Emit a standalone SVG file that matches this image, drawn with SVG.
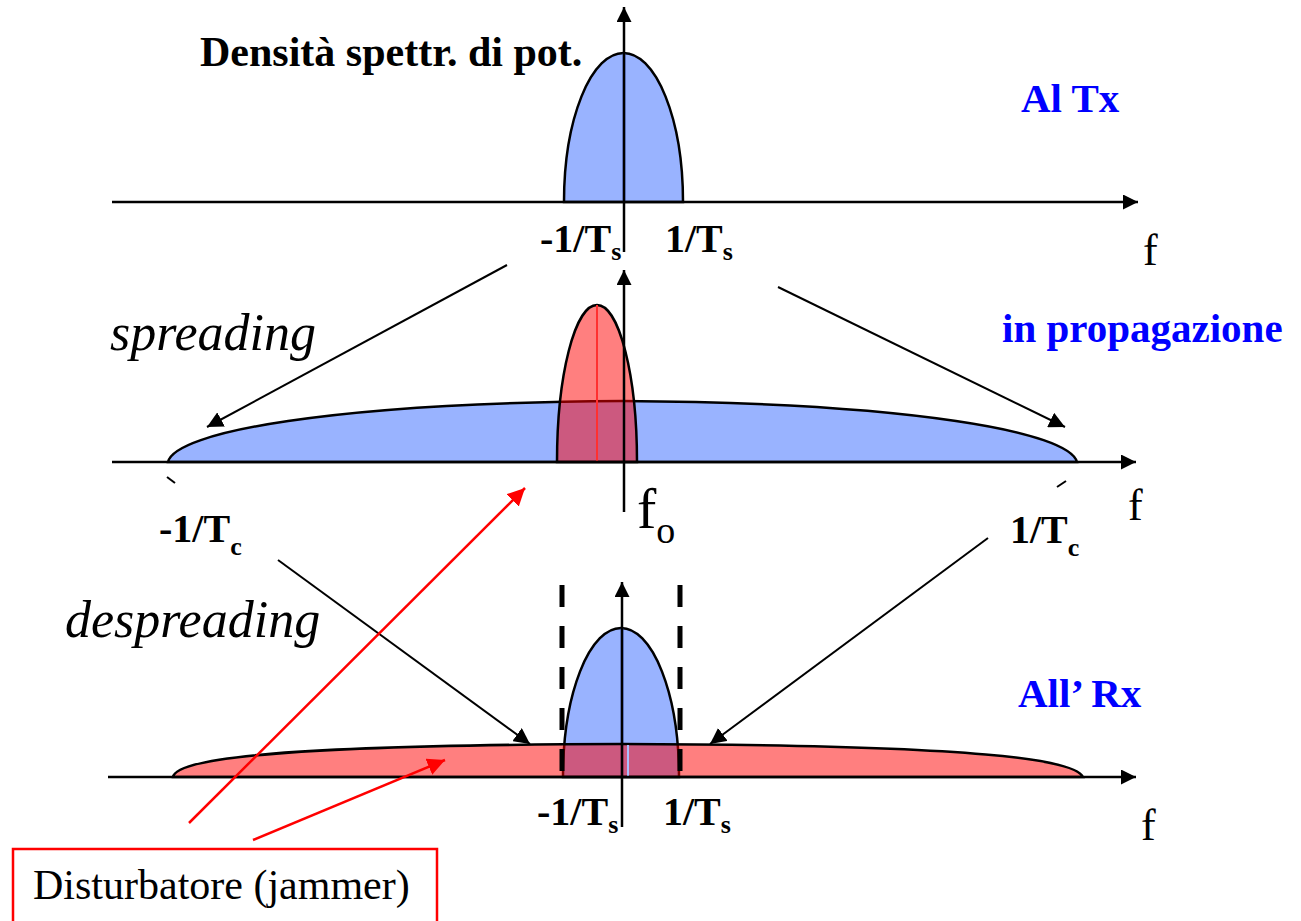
<svg xmlns="http://www.w3.org/2000/svg" width="1301" height="921" viewBox="0 0 1301 921">
<defs>
<style>
.axis{stroke:#000;stroke-width:2.5;fill:none}
.outline{stroke:#000;stroke-width:2.5}
.blue{fill:#99b3ff}
.red{fill:#ff0000;fill-opacity:0.5}
.conn{stroke:#000;stroke-width:2;fill:none}
.rconn{stroke:#ff0000;stroke-width:2.5;fill:none}
text{font-family:'Liberation Serif','Tinos','DejaVu Serif','Noto Serif',serif}
.tb{font-weight:bold;fill:#000}
.tr{fill:#000}
.ti{font-style:italic;fill:#000}
.tblue{font-weight:bold;fill:#0000ff;font-size:41px}
.lab{font-size:40px}
.sub{font-size:26px}
</style>
<marker id="ah" viewBox="0 0 10 10" refX="10" refY="5" markerWidth="8" markerHeight="8" markerUnits="strokeWidth" orient="auto"><path d="M0,0 L10,5 L0,10 Z" fill="#000"/></marker>
<marker id="ahr" viewBox="0 0 10 10" refX="10" refY="5" markerWidth="7" markerHeight="7" markerUnits="strokeWidth" orient="auto"><path d="M0,0 L10,5 L0,10 Z" fill="#ff0000"/></marker>
<marker id="axh" viewBox="0 0 10 10" refX="10" refY="5" markerWidth="6" markerHeight="6" markerUnits="strokeWidth" orient="auto"><path d="M0,0 L10,5 L0,10 Z" fill="#000"/></marker>
</defs>
<rect width="1301" height="921" fill="#fff"/>

<g id="panel-tx">
<path class="blue outline" d="M564,202 A59.5,149 0 0 1 683,202 Z"/>
<line x1="624" y1="53" x2="624" y2="202" stroke="#2a4fd0" stroke-width="2.5"/>
<line class="axis" x1="112" y1="202" x2="1138" y2="202" marker-end="url(#axh)"/>
<line class="axis" x1="624" y1="252" x2="624" y2="7" marker-end="url(#axh)"/>
<text class="tb" x="200" y="66" font-size="42">Densità spettr. di pot.</text>
<text class="tblue" x="1021" y="112">Al Tx</text>
<text class="tb lab" x="540" y="252">-1/T<tspan class="sub" dy="8">s</tspan></text>
<text class="tb lab" x="665" y="252">1/T<tspan class="sub" dy="8">s</tspan></text>
<text class="tr" x="1143" y="265" font-size="44">f</text>
</g>

<g id="panel-prop">
<path class="blue outline" d="M168,462 C175,432 330,403 622,401 C914,403 1069,432 1077,462 Z"/>
<path class="red outline" d="M557,462 A40,157 0 0 1 637,462 Z"/>
<line x1="597" y1="305" x2="597" y2="462" stroke="#ff3030" stroke-width="2"/>
<line class="axis" x1="112" y1="462" x2="1136" y2="462" marker-end="url(#axh)"/>
<line class="axis" x1="624" y1="512" x2="624" y2="270" marker-end="url(#axh)"/>
<line x1="167" y1="477" x2="175" y2="483" stroke="#000" stroke-width="2"/>
<line x1="1057" y1="487" x2="1066" y2="481" stroke="#000" stroke-width="2"/>
<text class="tb lab" x="159" y="542">-1/T<tspan class="sub" dy="13">c</tspan></text>
<text class="tb lab" x="1010" y="543">1/T<tspan class="sub" dy="13">c</tspan></text>
<text class="tr" x="637" y="528" font-size="58">f<tspan font-size="38" dy="15">o</tspan></text>
<text class="tr" x="1128" y="520" font-size="44">f</text>
<text class="tblue" x="1002" y="342">in propagazione</text>
<text class="ti" x="110" y="350" font-size="52">spreading</text>
</g>

<g id="panel-rx">
<path class="blue outline" d="M563,777 A58,149 0 0 1 679,777 Z"/>
<line x1="622" y1="628" x2="622" y2="777" stroke="#2a4fd0" stroke-width="2.5"/>
<path class="red outline" d="M173,777 C176,760 260,745 622,744 C985,745 1075,760 1083,777 Z"/>
<line x1="628" y1="745" x2="628" y2="776" stroke="#a9c0ff" stroke-width="2"/>
<line class="axis" x1="108" y1="777" x2="1136" y2="777" marker-end="url(#axh)"/>
<line class="axis" x1="622" y1="827" x2="622" y2="582" marker-end="url(#axh)"/>
<line x1="562" y1="585" x2="562" y2="779" stroke="#000" stroke-width="5" stroke-dasharray="22 19"/>
<line x1="680" y1="585" x2="680" y2="779" stroke="#000" stroke-width="5" stroke-dasharray="22 19"/>
<text class="tb lab" x="537" y="825">-1/T<tspan class="sub" dy="8">s</tspan></text>
<text class="tb lab" x="663" y="825">1/T<tspan class="sub" dy="8">s</tspan></text>
<text class="tr" x="1141" y="840" font-size="44">f</text>
<text class="tblue" x="1018" y="707">All’ Rx</text>
<text class="ti" x="65" y="637" font-size="52">despreading</text>
</g>

<g id="jammer">
<rect x="13" y="849" width="424" height="90" fill="none" stroke="#ff0000" stroke-width="2.5"/>
<text class="tr" x="33" y="899" font-size="42">Disturbatore (jammer)</text>
</g>

<g id="connectors">
<line class="conn" x1="507" y1="265" x2="207" y2="427" marker-end="url(#ah)"/>
<line class="conn" x1="778" y1="287" x2="1065" y2="427" marker-end="url(#ah)"/>
<line class="conn" x1="278" y1="560" x2="530" y2="744" marker-end="url(#ah)"/>
<line class="conn" x1="988" y1="538" x2="710" y2="744" marker-end="url(#ah)"/>
<line class="rconn" x1="189" y1="823" x2="525" y2="488" marker-end="url(#ahr)"/>
<line class="rconn" x1="253" y1="840" x2="445" y2="760" marker-end="url(#ahr)"/>
</g>
</svg>
